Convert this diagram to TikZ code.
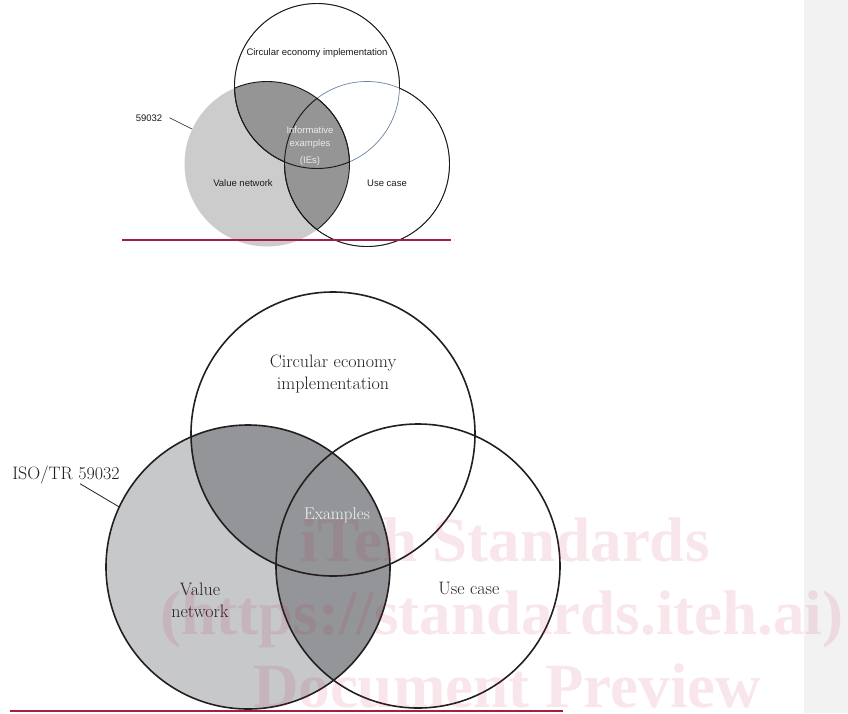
\documentclass[tikz,border=0pt]{standalone}
\usepackage{fontspec}
\newfontfamily\fontesans{Liberation Sans}
\newfontfamily\fontemarca{Liberation Serif}
\definecolor{tracado}{HTML}{231F20}
\definecolor{cinzaclaro}{HTML}{C7C8CA}
\definecolor{cinzaescuro}{HTML}{939598}
\definecolor{cinzap}{HTML}{CCCCCC}
\definecolor{escurop}{HTML}{959595}
\definecolor{azulp}{HTML}{6A829C}
\definecolor{linhap}{HTML}{1A1A1A}
\definecolor{vermelho}{HTML}{A51E42}
\definecolor{painel}{HTML}{F2F2F2}
\definecolor{marcad}{HTML}{BE1446}
\begin{document}
\begin{tikzpicture}[x=1pt, y=-1pt,
        conjunto/.style={circle, minimum size=284pt, inner sep=0pt},
        mini/.style={circle, minimum size=165pt, inner sep=0pt},
        rotulo/.style={font=\fontsize{18}{22}\selectfont, text=tracado, align=center, inner sep=0pt},
        rotulop/.style={font=\fontesans\fontsize{9.5}{13.5}\selectfont, text=linhap, align=center, inner sep=0pt},
        marca/.style={font=\fontemarca\bfseries\fontsize{63}{73}\selectfont, text=marcad, text opacity=0.105, anchor=base, inner sep=0pt}]
        \useasboundingbox (0,0) rectangle (848,713);
        \fill[painel] (804,0) rectangle (848,713);
        % small diagram
        \node[mini] (vnp) at (267,164) {};
        \node[mini] (cep) at (317,86) {};
        \node[mini] (ucp) at (367,164) {};
        \fill[cinzap] (vnp.center) circle[radius=82.5pt];
        \begin{scope}
            \clip (vnp.center) circle[radius=82.5pt];
            \fill[escurop] (cep.center) circle[radius=82.5pt] (ucp.center) circle[radius=82.5pt];
        \end{scope}
        \draw[azulp, line width=0.7pt] (cep.center) circle[radius=82.5pt] (ucp.center) circle[radius=82.5pt];
        \begin{scope}[even odd rule]
            \clip (0,0) rectangle (848,713) (ucp.center) circle[radius=82.5pt];
            \draw[linhap, line width=0.9pt] (cep.center) circle[radius=82.5pt];
        \end{scope}
        \begin{scope}[even odd rule]
            \clip (0,0) rectangle (848,713) (cep.center) circle[radius=82.5pt];
            \draw[linhap, line width=0.9pt] (ucp.center) circle[radius=82.5pt];
        \end{scope}
        \begin{scope}
            \clip (vnp.center) circle[radius=82.5pt];
            \draw[linhap, line width=0.9pt] (cep.center) circle[radius=82.5pt] (ucp.center) circle[radius=82.5pt];
        \end{scope}
        \foreach \lim in {cep,ucp}{
            \begin{scope}
                \clip (\lim.center) circle[radius=82.5pt];
                \draw[linhap, line width=0.9pt] (vnp.center) circle[radius=82.5pt];
            \end{scope}
        }
        \node[rotulop, anchor=base] (tcep) at (317,55) {Circular economy implementation};
        \node[rotulop, anchor=base] (n59032) at (149,121) {59032};
        \node[rotulop, anchor=base] (tvnp) at (243,186) {Value network};
        \node[rotulop, anchor=base] (tucp) at (387,186) {Use case};
        \node[rotulop, text=black!8] (tiep) at (310,146) {Informative\\examples\\[3pt](IEs)};
        \draw[linhap, line width=0.6pt] ([xshift=7pt]n59032.east) -- (vnp.155);
        \draw[vermelho, line width=2.4pt] (122,240) -- (451,240);
        % large diagram
        \node[conjunto] (vn) at (248,567) {};
        \node[conjunto] (ce) at (333,434) {};
        \node[conjunto] (uc) at (418,566) {};
        \fill[cinzaclaro] (vn.center) circle[radius=142pt];
        \begin{scope}
            \clip (vn.center) circle[radius=142pt];
            \fill[cinzaescuro] (ce.center) circle[radius=142pt] (uc.center) circle[radius=142pt];
        \end{scope}
        \draw[tracado, line width=1.6pt] (vn.center) circle[radius=142pt] (ce.center) circle[radius=142pt] (uc.center) circle[radius=142pt];
        \node[rotulo] (tce) at (333,374) {Circular economy\\implementation};
        \node[rotulo] (tvn) at (200,600) {Value\\network};
        \node[rotulo, anchor=base] (tuc) at (469,594) {Use case};
        \node[rotulo, anchor=base, text=white!96!black, font=\fontsize{17}{22}\selectfont] (tex) at (337,519) {Examples};
        \node[rotulo, anchor=base] (iso) at (66,479) {ISO/TR 59032};
        \draw[tracado, line width=0.8pt] ([xshift=14pt]iso.south) -- (vn.155);
        \draw[vermelho, line width=2.6pt] (10,711) -- (563,711);
        % watermark
        \node[marca] (m1) at (505,561) {iTeh Standards};
        \node[marca] (m2) at (502,634) {(https://standards.iteh.ai)};
        \node[marca] (m3) at (507,707) {Document Preview};
\end{tikzpicture}
\end{document}
